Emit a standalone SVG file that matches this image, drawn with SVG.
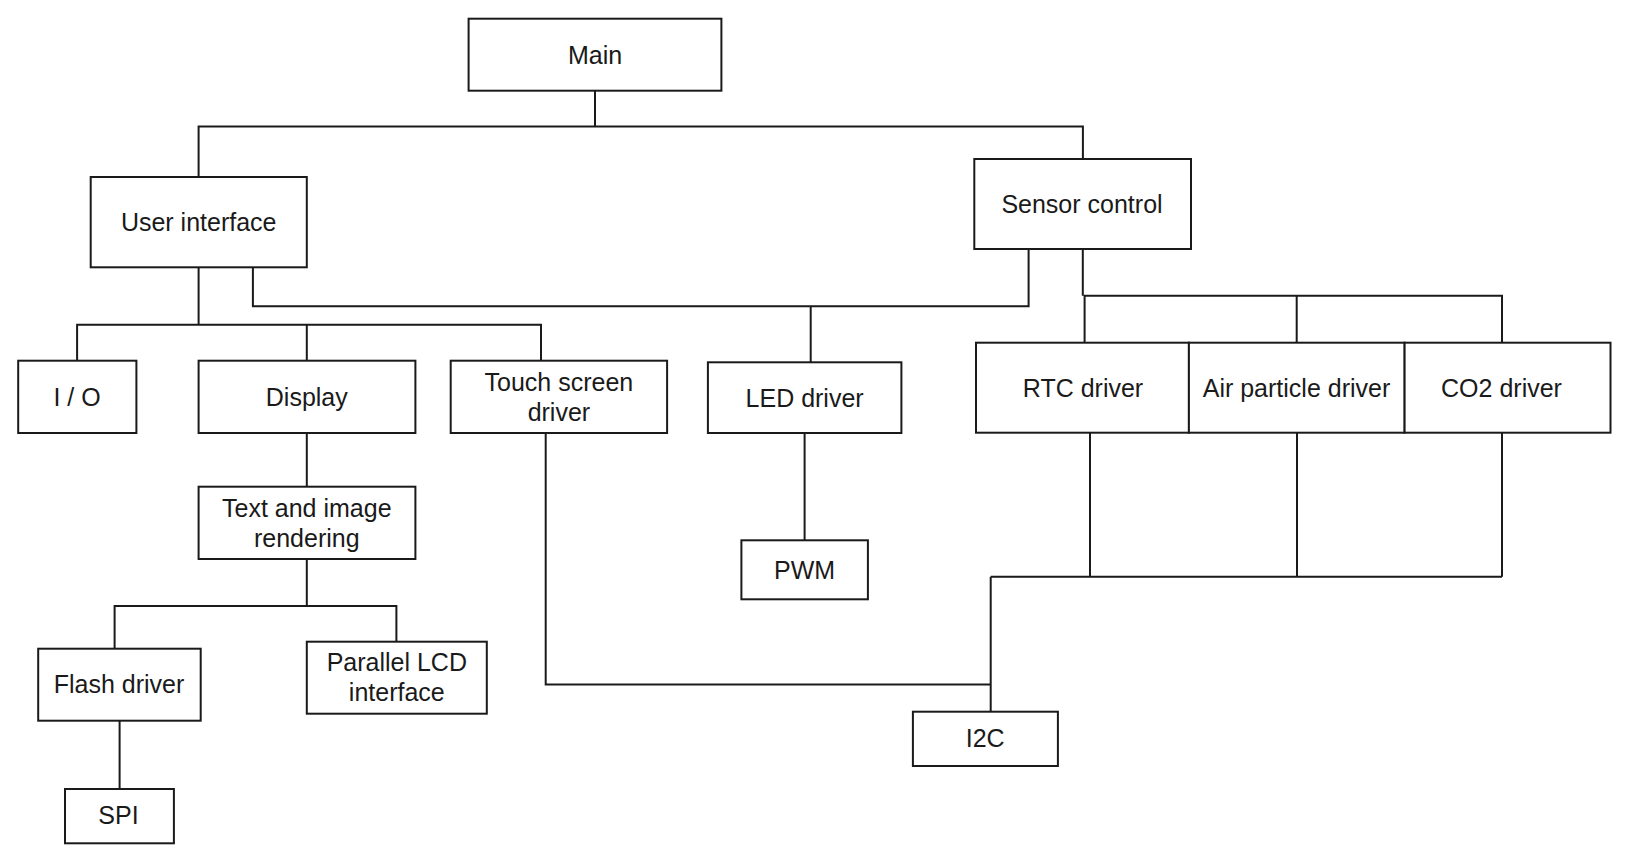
<svg xmlns="http://www.w3.org/2000/svg" width="1629" height="863" viewBox="0 0 1629 863">
<style>
.box{fill:#fff;stroke:#1a1a1a;stroke-width:2}
.lbl{font-family:"Liberation Sans",Arial,sans-serif;font-size:25px;fill:#1a1a1a;text-anchor:middle}
.wire{fill:none;stroke:#1a1a1a;stroke-width:2}
</style>
<rect width="1629" height="863" fill="#fff"/>
<g id="connectors">
<path class="wire" d="M595,90.7 V126.5 M198.6,177 V126.5 H1082.9 V159"/>
<path class="wire" d="M198.6,267.3 V324.7 M77.1,360.7 V324.7 H541 V360.7 M306.8,324.7 V360.7"/>
<path class="wire" d="M252.9,267.3 V306.3 H1028.6 V249 M810.7,306.3 V362.3"/>
<path class="wire" d="M1082.8,249 V295.7 M1084.6,342.7 V295.7 H1502 V342.7 M1296.7,295.7 V342.7"/>
<path class="wire" d="M306.8,433 V486.7"/>
<path class="wire" d="M306.8,559 V606 H114.6 V648.7 M306.8,606 H396.4 V641.7"/>
<path class="wire" d="M119.6,720.7 V789"/>
<path class="wire" d="M804.6,433 V540.3"/>
<path class="wire" d="M545.7,433 V684.5 H990.7"/>
<path class="wire" d="M1090,432.7 V576.7 M1297,432.7 V576.7 M1502,432.7 V576.7 M990.7,576.7 H1502 M990.7,576.7 V711.7"/>
</g>
<g id="main"><rect class="box" x="468.6" y="18.7" width="252.8" height="72"/><text class="lbl" x="595" y="63.5">Main</text></g>
<g id="user-interface"><rect class="box" x="90.7" y="177" width="216.1" height="90.3"/><text class="lbl" x="198.7" y="231">User interface</text></g>
<g id="sensor-control"><rect class="box" x="974.3" y="159" width="216.7" height="90"/><text class="lbl" x="1082" y="212.7">Sensor control</text></g>
<g id="io"><rect class="box" x="18.2" y="360.7" width="118.2" height="72.3"/><text class="lbl" x="77" y="405.6">I / O</text></g>
<g id="display"><rect class="box" x="198.6" y="360.7" width="216.8" height="72.3"/><text class="lbl" x="306.8" y="405.6">Display</text></g>
<g id="touch-screen-driver"><rect class="box" x="450.7" y="360.7" width="216.4" height="72.3"/><text class="lbl" x="558.9" y="391"><tspan x="558.9">Touch screen</tspan><tspan x="558.9" dy="29.5">driver</tspan></text></g>
<g id="led-driver"><rect class="box" x="707.9" y="362.3" width="193.5" height="70.7"/><text class="lbl" x="804.6" y="406.8">LED driver</text></g>
<g id="rtc-driver"><rect class="box" x="976" y="342.7" width="212.9" height="90"/><text class="lbl" x="1083" y="396.5">RTC driver</text></g>
<g id="air-particle-driver"><rect class="box" x="1188.9" y="342.7" width="215.7" height="90"/><text class="lbl" x="1296.5" y="396.5">Air particle driver</text></g>
<g id="co2-driver"><rect class="box" x="1404.6" y="342.7" width="205.9" height="90"/><text class="lbl" x="1501.5" y="396.5">CO2 driver</text></g>
<g id="text-image-rendering"><rect class="box" x="198.6" y="486.7" width="216.8" height="72.3"/><text class="lbl" x="306.8" y="517"><tspan x="306.8">Text and image</tspan><tspan x="306.8" dy="29.5">rendering</tspan></text></g>
<g id="pwm"><rect class="box" x="741.4" y="540.3" width="126.5" height="59"/><text class="lbl" x="804.6" y="578.5">PWM</text></g>
<g id="flash-driver"><rect class="box" x="38.2" y="648.7" width="162.5" height="72"/><text class="lbl" x="119" y="693.3">Flash driver</text></g>
<g id="parallel-lcd"><rect class="box" x="306.8" y="641.7" width="180" height="72"/><text class="lbl" x="396.8" y="671.3"><tspan x="396.8">Parallel LCD</tspan><tspan x="396.8" dy="29.5">interface</tspan></text></g>
<g id="spi"><rect class="box" x="65" y="789" width="108.9" height="54.3"/><text class="lbl" x="118.5" y="824.2">SPI</text></g>
<g id="i2c"><rect class="box" x="912.9" y="711.7" width="145" height="54.3"/><text class="lbl" x="985.2" y="747.3">I2C</text></g>
</svg>
